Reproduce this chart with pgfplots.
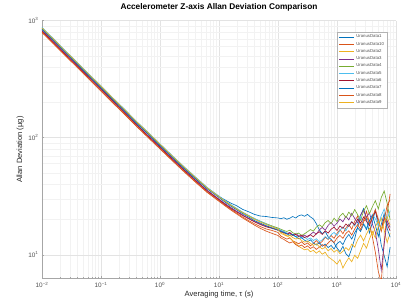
\documentclass[border=0pt]{standalone}
\usepackage{fontspec}
\setmainfont{Liberation Sans}
\usepackage{pgfplots}
\usepackage{pgfplotstable}
\pgfplotsset{compat=1.18}
\definecolor{m1}{rgb}{0,0.447,0.741}
\definecolor{m2}{rgb}{0.85,0.325,0.098}
\definecolor{m3}{rgb}{0.929,0.694,0.125}
\definecolor{m4}{rgb}{0.494,0.184,0.556}
\definecolor{m5}{rgb}{0.466,0.674,0.188}
\definecolor{m6}{rgb}{0.301,0.745,0.933}
\definecolor{m7}{rgb}{0.635,0.078,0.184}
\definecolor{txt}{rgb}{0.15,0.15,0.15}
\pgfplotstableread{
t s1 s10 s2 s3 s4 s5 s6 s7 s8 s9
0.01 840 798 857 823 865 874 815 848 790 865
0.01585 672 636 683 655 690 697 650 677 630 690
0.02512 530 503 541 519 546 551 514 535 498 546
0.03981 422 401 430 414 435 439 409 426 397 435
0.0631 335 318 342 328 345 348 325 338 315 345
0.1 266 253 271 261 274 277 258 269 250 274
0.1585 211 200 215 207 217 219 205 213 198 217
0.2512 168 160 171 165 173 175 163 170 158 173
0.3981 133 126 136 130 137 138 129 134 125 137
0.631 107 101 109 104 110 111 103 108 100 110
1 85.2 81 86.9 83.5 87.8 88.6 82.6 86 80.1 87.8
1.585 68.2 64.8 69.6 66.8 70.2 70.9 66.2 68.9 64.1 70.2
2.512 54.8 52.1 55.9 53.7 56.4 57 53.2 55.3 51.5 56.4
3.981 44.6 42.2 45.3 43.5 45.7 46.2 43.1 44.8 41.7 45.7
6.31 36.8 34.4 37 35.5 37.3 37.6 35.1 36.5 34 37.2
10 31.5 29 31 29.8 31.4 31.6 29.5 30.8 28.6 31.2
12.59 29.4 26.6 28.5 27.4 28.8 29 27 28.2 26.2 28.7
15.85 27.6 24.5 26.3 25.3 26.6 26.8 24.9 26 24.1 26.5
19.95 26.2 22.7 24.5 23.5 24.7 24.9 23.2 24.2 22.3 24.6
25.12 24.4 21 22.8 21.9 23 23.1 21.6 22.4 20.6 22.9
31.62 23.3 19.6 21.4 20.5 21.6 21.7 20.3 21 19.2 21.5
39.81 22.1 18.4 20.2 19.3 20.3 20.4 19.1 19.6 17.9 20.1
50.12 21.4 17.4 19.2 18.3 19.3 19.3 18.1 18.6 16.8 19
63.1 21.2 16.6 18.3 17.5 18.4 18.3 17.3 17.7 15.9 18.1
79.43 20.8 16.1 17.5 16.9 17.6 17.4 16.8 16.9 15.2 17.3
100 20.6 15.5 16.8 16.4 16.9 16.6 16.2 16.2 14.6 16.5
112.2 20.3 14.4 15.6 16.0 16.5 16.2 15.7 15.8 13.9 15.2
125.9 20.7 14.0 15.1 15.7 16.1 15.8 15.4 15.5 13.5 14.8
141.3 20.1 13.6 14.5 15.2 15.8 15.3 15.0 15.1 13.0 14.4
158.5 20.5 13.9 14.0 15.5 16.2 15.0 15.3 14.6 12.6 14.7
177.8 21.2 13.1 13.2 14.8 15.4 14.7 14.6 14.9 12.9 14.0
199.5 20.6 12.8 12.5 15.1 15.0 14.2 14.9 14.3 12.2 13.6
223.9 21.5 12.4 11.8 14.6 15.3 14.5 14.3 13.7 11.8 13.9
251.2 21.9 12.9 11.4 14.2 14.6 13.8 14.7 14.0 12.1 13.2
281.8 21.3 12.2 11.0 14.7 15.1 14.1 14.0 13.3 11.5 12.8
316.2 22.1 12.6 11.2 14.1 15.7 13.5 14.4 12.9 11.9 13.1
354.8 21.0 11.9 10.6 14.9 16.4 13.9 14.8 13.4 11.3 12.5
398.1 20.2 12.5 10.9 15.6 15.9 13.2 14.2 12.6 11.7 12.0
446.7 18.4 13.2 10.3 15.0 17.2 13.7 15.1 12.1 11.1 12.4
501.2 16.3 12.4 10.8 16.3 18.0 12.9 15.7 12.7 11.6 11.7
562.3 15.1 13.0 10.1 17.1 17.3 13.4 14.9 11.8 12.2 11.2
631.0 15.8 14.1 10.5 16.2 18.8 14.3 16.0 12.3 11.8 11.6
707.9 14.2 13.5 9.6 17.8 19.6 13.6 15.3 11.5 12.6 10.8
794.3 13.5 14.6 9.2 18.9 18.4 14.8 16.5 12.0 13.3 11.3
891.3 12.6 13.8 8.8 17.5 20.5 15.5 17.2 11.2 12.7 10.5
1000 11.4 15.2 8.3 18.6 19.2 14.6 16.1 12.4 13.9 11.0
1122 10.6 16.4 9.1 20.2 21.4 16.1 17.6 13.0 14.6 10.2
1259 11.8 15.1 7.7 19.1 22.6 17.3 16.8 12.2 13.8 10.7
1413 10.2 16.9 8.6 21.3 20.7 16.0 18.3 13.8 15.2 11.5
1585 9.6 18.2 9.4 19.8 23.1 17.9 17.4 14.9 16.0 10.9
1778 11.3 16.5 8.7 22.6 21.5 19.2 19.1 13.6 14.7 12.3
1995 13.7 19.3 9.9 20.4 24.3 17.6 18.0 15.4 16.6 11.6
2239 17.2 21.4 9.3 18.7 22.0 19.8 20.2 17.0 18.1 13.4
2512 21.5 17.6 10.8 21.9 19.7 21.3 18.6 15.8 16.4 14.7
2818 24.8 19.8 12.5 24.1 23.6 18.5 21.0 18.2 19.0 13.1
3162 20.1 23.5 11.4 20.8 26.2 16.9 19.3 16.4 21.2 15.0
3548 15.3 18.7 13.6 22.9 22.4 19.4 17.7 19.5 18.4 16.8
3981 18.9 14.2 15.8 18.3 25.7 22.1 20.8 21.7 20.9 14.6
4467 24.2 10.5 13.9 15.6 28.9 20.3 23.4 17.9 24.3 17.3
5012 17.4 7.2 17.5 11.2 24.6 17.8 19.6 14.3 20.1 19.5
5623 12.1 5.8 20.6 7.4 30.8 21.6 16.2 18.1 15.8 16.4
6310 9.8 12.8 16.2 12.3 35.0 24.5 20.9 22.4 19.6 18.7
7079 7.9 22.6 12.7 19.6 27.5 20.2 18.3 16.8 26.4 21.3
7943 11.6 33.0 15.3 17.1 19.8 23.8 16.0 14.1 29.5 17.9
}\adata
\begin{document}
\begin{tikzpicture}
\begin{axis}[
  at={(0pt,0pt)}, anchor=south west,
  scale only axis, width=354pt, height=258pt,
  xmode=log, ymode=log,
  xmin=0.01, xmax=10000, ymin=6.25, ymax=1000,
  axis x line*=bottom, axis y line*=left,
  axis line style={draw=gray!70, line width=0.4pt},
  every tick/.style={gray!70, line width=0.3pt},
  major tick length=2.5pt, minor tick length=1.3pt,
  grid=both,
  major grid style={gray!22, line width=0.3pt},
  minor grid style={gray!10, line width=0.3pt},
  xtick={0.01,0.1,1,10,100,1000,10000},
  xticklabels={10\textsuperscript{−2},10\textsuperscript{−1},10\textsuperscript{0},10\textsuperscript{1},10\textsuperscript{2},10\textsuperscript{3},10\textsuperscript{4}},
  ytick={10,100,1000},
  yticklabels={10\textsuperscript{1},10\textsuperscript{2},10\textsuperscript{3}},
  tick label style={font=\fontsize{6.4}{7.5}\selectfont, text=txt!80},
  title={Accelerometer Z-axis Allan Deviation Comparison},
  title style={font=\bfseries\fontsize{8.3}{9}\selectfont, text=black, at={(0.5,1)}, anchor=south, yshift=0pt},
  xlabel={Averaging time, τ (s)},
  ylabel={Allan Deviation (µg)},
  label style={font=\fontsize{7.6}{8.5}\selectfont, text=txt},
  xlabel style={at={(axis description cs:0.5,0)}, anchor=north, yshift=-8.5pt},
  ylabel style={at={(axis description cs:-0.042,0.5)}, anchor=south},
  legend cell align=left,
  legend style={at={(0.975,0.957)}, anchor=north east, draw=gray!60, line width=0.3pt,
    font=\fontsize{4.3}{5}\selectfont, text=txt!80, inner sep=1pt, row sep=-1.2pt},
  legend image code/.code={\draw[#1, line width=0.7pt] (0pt,0pt) -- (15pt,0pt);},
  every axis plot/.append style={line width=0.65pt},
]
\addplot[m1] table[x=t,y=s1]{\adata};
\addplot[m2] table[x=t,y=s10]{\adata};
\addplot[m3] table[x=t,y=s2]{\adata};
\addplot[m4] table[x=t,y=s3]{\adata};
\addplot[m5] table[x=t,y=s4]{\adata};
\addplot[m6] table[x=t,y=s5]{\adata};
\addplot[m7] table[x=t,y=s6]{\adata};
\addplot[m1] table[x=t,y=s7]{\adata};
\addplot[m2] table[x=t,y=s8]{\adata};
\addplot[m3] table[x=t,y=s9]{\adata};
\legend{UranusData1,UranusData10,UranusData2,UranusData3,UranusData4,UranusData5,UranusData6,UranusData7,UranusData8,UranusData9}
\end{axis}
\path (-42pt,-26pt) rectangle (368pt,274pt);
\end{tikzpicture}
\end{document}
